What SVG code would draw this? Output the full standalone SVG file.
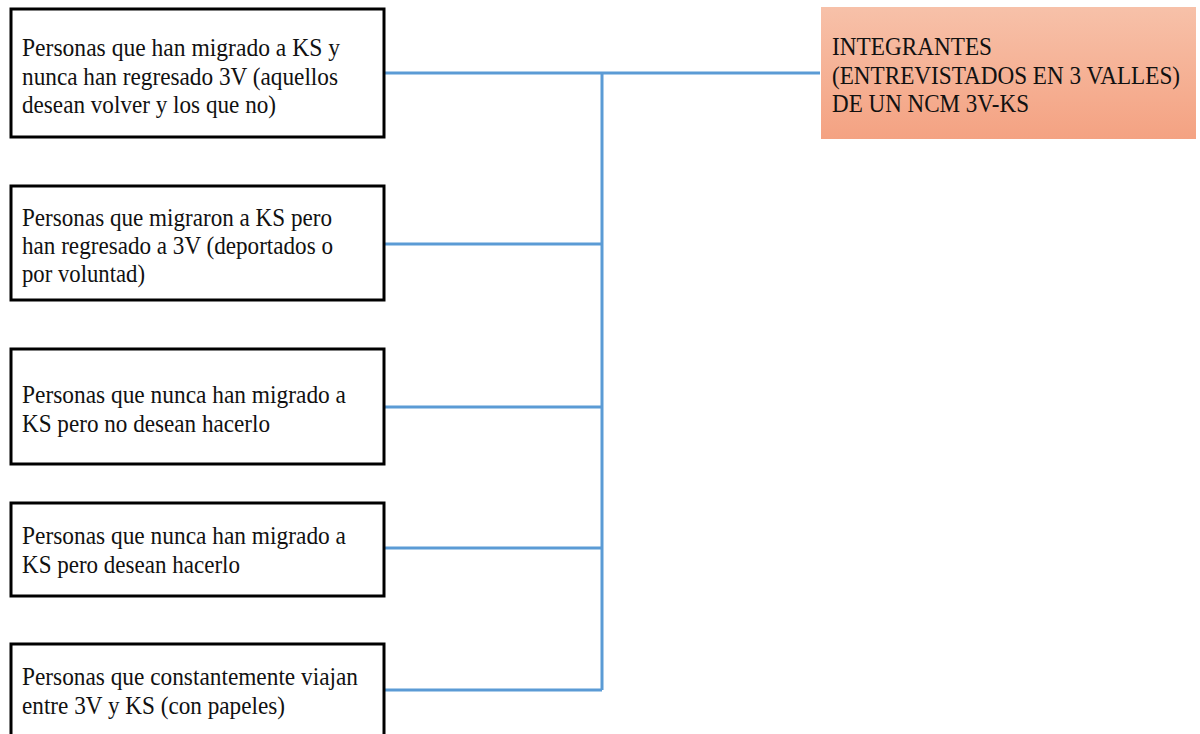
<svg xmlns="http://www.w3.org/2000/svg" width="1200" height="734" viewBox="0 0 1200 734">
<defs>
<linearGradient id="og" x1="0" y1="0" x2="0" y2="1">
<stop offset="0" stop-color="#F7C1A9"/>
<stop offset="1" stop-color="#F4A282"/>
</linearGradient>
<style>
.box{fill:#fff;stroke:#000;stroke-width:3}
.t{font-family:"Liberation Serif","Times New Roman",serif;font-size:25px;fill:#111}
.c{stroke:#5B9BD5;stroke-width:3;fill:none}
</style>
</defs>
<rect width="1200" height="734" fill="#fff"/>
<g id="connectors">
<path class="c" d="M384 73H820M602 73V690M384 244H602M384 407H602M384 548H602M384 690H602"/>
</g>
<g id="n1">
<rect class="box" x="11" y="9" width="373" height="128"/>
<text class="t" x="22" y="56" textLength="318" lengthAdjust="spacingAndGlyphs">Personas que han migrado a KS y</text>
<text class="t" x="22" y="85" textLength="316" lengthAdjust="spacingAndGlyphs">nunca han regresado 3V (aquellos</text>
<text class="t" x="22" y="113" textLength="254" lengthAdjust="spacingAndGlyphs">desean volver y los que no)</text>
</g>
<g id="n2">
<rect class="box" x="11" y="186" width="373" height="114"/>
<text class="t" x="22" y="226" textLength="310" lengthAdjust="spacingAndGlyphs">Personas que migraron a KS pero</text>
<text class="t" x="22" y="254" textLength="311" lengthAdjust="spacingAndGlyphs">han regresado a 3V (deportados o</text>
<text class="t" x="22" y="282" textLength="123" lengthAdjust="spacingAndGlyphs">por voluntad)</text>
</g>
<g id="n3">
<rect class="box" x="11" y="349" width="373" height="115"/>
<text class="t" x="22" y="403" textLength="324" lengthAdjust="spacingAndGlyphs">Personas que nunca han migrado a</text>
<text class="t" x="22" y="432" textLength="248" lengthAdjust="spacingAndGlyphs">KS pero no desean hacerlo</text>
</g>
<g id="n4">
<rect class="box" x="11" y="503" width="373" height="93"/>
<text class="t" x="22" y="544" textLength="324" lengthAdjust="spacingAndGlyphs">Personas que nunca han migrado a</text>
<text class="t" x="22" y="573" textLength="218" lengthAdjust="spacingAndGlyphs">KS pero desean hacerlo</text>
</g>
<g id="n5">
<rect class="box" x="11" y="644" width="373" height="100"/>
<text class="t" x="22" y="685" textLength="336" lengthAdjust="spacingAndGlyphs">Personas que constantemente viajan</text>
<text class="t" x="22" y="714" textLength="263" lengthAdjust="spacingAndGlyphs">entre 3V y KS (con papeles)</text>
</g>
<g id="n6">
<rect x="821" y="7" width="375" height="132" fill="url(#og)"/>
<text class="t" x="832" y="55" textLength="160" lengthAdjust="spacingAndGlyphs">INTEGRANTES</text>
<text class="t" x="832" y="84" textLength="348" lengthAdjust="spacingAndGlyphs">(ENTREVISTADOS EN 3 VALLES)</text>
<text class="t" x="832" y="112" textLength="197" lengthAdjust="spacingAndGlyphs">DE UN NCM 3V-KS</text>
</g>
</svg>
